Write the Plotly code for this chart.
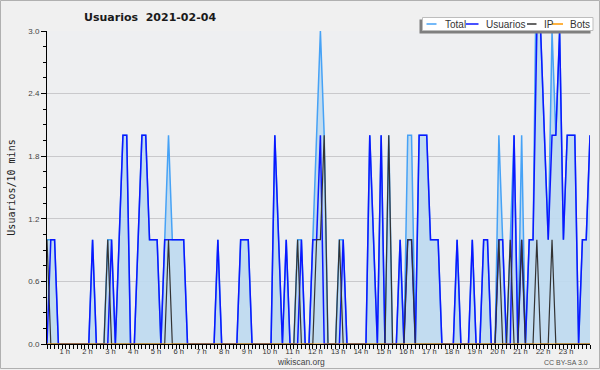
import plotly.graph_objects as go

# ---- data (10-minute slots, minutes after midnight) ----
minutes = list(range(0, 1440, 10))
hour_ticks = [60 * h for h in range(1, 24)]
hour_labels = [f"{h} h" for h in range(1, 24)]
y_ticks = [0.0, 0.6, 1.2, 1.8, 2.4, 3.0]

total = [
    1, 1, 1, 0, 0, 0, 0, 0, 0, 0, 0, 0,
    1, 0, 0, 0, 1, 1, 0, 1, 2, 2, 0, 0,
    1, 2, 2, 1, 1, 1, 0, 1, 2, 1, 1, 1,
    1, 0, 0, 0, 0, 0, 0, 0, 0, 1, 0, 0,
    0, 0, 0, 1, 1, 1, 0, 0, 0, 0, 0, 0,
    2, 1, 0, 1, 0, 0, 1, 1, 0, 0, 1, 2,
    3, 2, 0, 0, 0, 1, 1, 0, 0, 0, 0, 0,
    0, 2, 1, 0, 2, 0, 2, 0, 0, 1, 0, 2,
    2, 0, 2, 2, 2, 1, 1, 1, 0, 0, 0, 0,
    1, 0, 0, 0, 1, 0, 0, 1, 1, 0, 0, 2,
    1, 0, 1, 2, 0, 2, 0, 1, 1, 4, 3, 2,
    1, 3, 2, 3, 1, 2, 2, 2, 0, 1, 1, 2,
]
usuarios = [
    0, 1, 1, 0, 0, 0, 0, 0, 0, 0, 0, 0,
    1, 0, 0, 0, 0, 1, 0, 1, 2, 2, 0, 0,
    1, 2, 2, 1, 1, 1, 0, 1, 1, 1, 1, 1,
    1, 0, 0, 0, 0, 0, 0, 0, 0, 1, 0, 0,
    0, 0, 0, 1, 1, 1, 0, 0, 0, 0, 0, 0,
    2, 1, 0, 1, 0, 0, 0, 1, 0, 0, 1, 1,
    2, 0, 0, 0, 0, 0, 1, 0, 0, 0, 0, 0,
    0, 2, 1, 0, 2, 0, 0, 0, 0, 1, 0, 1,
    1, 0, 2, 2, 2, 1, 1, 1, 0, 0, 0, 0,
    1, 0, 0, 0, 1, 0, 0, 1, 1, 0, 0, 1,
    1, 0, 0, 2, 0, 1, 0, 1, 1, 3, 3, 2,
    1, 2, 2, 3, 1, 2, 2, 2, 0, 1, 1, 2,
]
ip = [
    1, 0, 0, 0, 0, 0, 0, 0, 0, 0, 0, 0,
    0, 0, 0, 0, 1, 0, 0, 0, 0, 0, 0, 0,
    0, 0, 0, 0, 0, 0, 0, 0, 1, 0, 0, 0,
    0, 0, 0, 0, 0, 0, 0, 0, 0, 0, 0, 0,
    0, 0, 0, 0, 0, 0, 0, 0, 0, 0, 0, 0,
    0, 0, 0, 0, 0, 0, 1, 0, 0, 0, 0, 1,
    1, 2, 0, 0, 0, 1, 0, 0, 0, 0, 0, 0,
    0, 0, 0, 0, 0, 0, 2, 0, 0, 0, 0, 1,
    1, 0, 0, 0, 0, 0, 0, 0, 0, 0, 0, 0,
    0, 0, 0, 0, 0, 0, 0, 0, 0, 0, 0, 1,
    0, 0, 1, 0, 0, 1, 0, 0, 0, 1, 0, 0,
    0, 1, 0, 0, 0, 0, 0, 0, 0, 0, 0, 0,
]
bots = [0] * 144

series_names = ["Total", "Usuarios", "IP", "Bots"]
series_colors = ["#46a2f6", "#0b17ff", "#333333", "#ff9900"]

# ---- geometry helpers (plot area in pixels) ----
L, R, T, B = 47, 590, 31, 344
W, H = R - L, B - T


def px(x):
    return (x - L) / W


def py(y):
    return (B - y) / H


fig = go.Figure()
fig.add_trace(go.Scatter(x=minutes, y=total, name="Total", mode="lines",
                         line=dict(color=series_colors[0], width=1.5),
                         fill="tozeroy", fillcolor="rgba(190,218,240,0.92)"))
fig.add_trace(go.Scatter(x=minutes, y=usuarios, name="Usuarios", mode="lines",
                         line=dict(color=series_colors[1], width=1.5)))
fig.add_trace(go.Scatter(x=minutes, y=ip, name="IP", mode="lines",
                         line=dict(color=series_colors[2], width=1.2)))
fig.add_trace(go.Scatter(x=minutes, y=bots, name="Bots", mode="lines",
                         line=dict(color=series_colors[3], width=1)))

shapes = [
    # outer frame
    dict(type="rect", xref="paper", yref="paper",
         x0=px(0.5), x1=px(599.5), y0=py(368.5), y1=py(0.5),
         line=dict(color="#b0b0b0", width=1), fillcolor="rgba(0,0,0,0)", layer="below"),
    # legend shadow and box
    dict(type="rect", xref="paper", yref="paper",
         x0=px(419.5), x1=px(590.5), y0=py(33.5), y1=py(19.5),
         line=dict(width=0), fillcolor="#7f7f7f"),
    dict(type="rect", xref="paper", yref="paper",
         x0=px(422.5), x1=px(593), y0=py(30.5), y1=py(17.5),
         line=dict(color="#bdbdbd", width=1), fillcolor="white"),
]
annotations = []
leg_line_x = [(426.5, 436.5), (466, 478.5), (527, 536.5), (552, 563)]
leg_text_x = [443, 484, 542, 567.5]
for name, col, (a, b), tx in zip(series_names, series_colors, leg_line_x, leg_text_x):
    shapes.append(dict(type="line", xref="paper", yref="paper",
                       x0=px(a), x1=px(b), y0=py(24), y1=py(24),
                       line=dict(color=col, width=1.5)))
    annotations.append(dict(text=name, xref="paper", yref="paper",
                            x=px(tx), y=py(24.5), xanchor="left", yanchor="middle",
                            showarrow=False,
                            font=dict(family="Liberation Sans", size=10, color="#333333")))

annotations += [
    dict(text="<b>Usuarios\u00a0\u00a02021-02-04</b>", xref="paper", yref="paper",
         x=px(150), y=py(17), xanchor="center", yanchor="middle", showarrow=False,
         font=dict(family="DejaVu Sans", size=11, color="#1a1a1a")),
    dict(text="wikiscan.org", xref="paper", yref="paper",
         x=px(301), y=py(362), xanchor="center", yanchor="middle", showarrow=False,
         font=dict(family="Liberation Sans", size=8.5, color="#444444")),
    dict(text="CC BY-SA 3.0", xref="paper", yref="paper",
         x=px(590), y=py(362), xanchor="right", yanchor="middle", showarrow=False,
         font=dict(family="Liberation Sans", size=7, color="#555555")),
]

fig.update_layout(
    width=600, height=370, autosize=False,
    margin=dict(l=L, r=600 - R, t=T, b=370 - B),
    paper_bgcolor="#f0f0f0", plot_bgcolor="#eeeff1",
    showlegend=False,
    shapes=shapes, annotations=annotations,
    xaxis=dict(range=[0, 1430], tickvals=hour_ticks, ticktext=hour_labels,
               ticks="", 
               minor=dict(dtick=10, tick0=0, ticks="outside", ticklen=4,
                          tickcolor="black", tickwidth=1, showgrid=False),
               ticklabelshift=-5, ticklabelstandoff=0,
               showline=True, linecolor="black", linewidth=1,
               showgrid=False, zeroline=False, fixedrange=True,
               tickfont=dict(family="Liberation Sans", size=7.5, color="#333333")),
    yaxis=dict(range=[0, 3], tickvals=y_ticks, tickformat=".1f",
               ticks="outside", ticklen=5, tickcolor="black", tickwidth=1,
               minor=dict(dtick=0.15, tick0=0, ticks="outside", ticklen=3,
                          tickcolor="black", tickwidth=1, showgrid=False),
               showline=True, linecolor="black", linewidth=1,
               showgrid=True, gridcolor="#c9c9cc", gridwidth=1,
               zeroline=False, fixedrange=True,
               tickfont=dict(family="Liberation Sans", size=8, color="#444444"),
               title=dict(text="Usuarios/10 mins", standoff=10,
                          font=dict(family="DejaVu Sans Mono", size=10, color="#222222"))),
)

fig.write_html("out.html")
